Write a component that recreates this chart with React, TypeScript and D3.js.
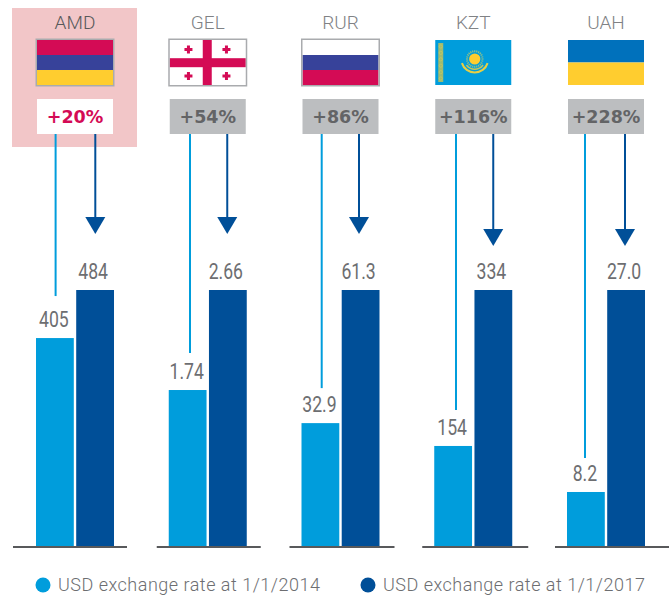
import * as d3 from "d3";

// values as printed on the chart
const currencies = ["AMD", "GEL", "RUR", "KZT", "UAH"];
const rate2014 = [405, 1.74, 32.9, 154, 8.2];
const rate2017 = [484, 2.66, 61.3, 334, 27.0];
const rate2014Labels = ["405", "1.74", "32.9", "154", "8.2"];
const rate2017Labels = ["484", "2.66", "61.3", "334", "27.0"];
const changes = ["+20%", "+54%", "+86%", "+116%", "+228%"];
const legendLabels = ["USD exchange rate at 1/1/2014", "USD exchange rate at 1/1/2017"];

// every panel has its own truncated y axis in the original
const axisFloors = [61.5, 0.296, 6.47, 37.4, 3.08];

// hand placed leader lines, they are not regular in the original
const lightLineOffsets = [-19.4, -17.75, -18.8, -17.25, -21];
const darkLineOffsets = [20.3, 19.5, 18.5, 20, 19];
const lightLineGaps = [42, 37, 35, 36, 34];
const arrowTips = [234, 234, 234, 246, 246];
const axisExtents = [[-23, 91], [-12, 92], [-12, 93], [-12, 94], [-12, 102]];

const LIGHT = "#009ddc";
const DARK = "#004f98";
const GREY = "#6d6e71";
const CRIMSON = "#d40b55";
const INDIGO = "#37429a";
const YELLOW = "#ffcd2f";
const UA_BLUE = "#0071bc";
const FLAG_BORDER = "#a9abae";

const BASELINE = 547;
const BAR_TOP = 290;
const FLAG_W = 76;
const FLAG_H = 45;

const x0 = d3.scaleBand<string>().domain(currencies).range([36, 645]).paddingInner(0.4124);
const x1 = d3.scaleBand<number>().domain([0, 1]).range([0, x0.bandwidth()]).paddingInner(0.06);

function Stripes({ colors, border }: { colors: string[]; border?: boolean }) {
  const y = d3.scaleBand<number>().domain(d3.range(colors.length)).range([0, FLAG_H]);
  return (
    <g>
      {colors.map((c, i) => (
        <rect key={i} x={0} y={y(i)} width={FLAG_W} height={y.bandwidth()} fill={c} />
      ))}
      {border && <rect x={-0.75} y={-0.75} width={FLAG_W + 1.5} height={FLAG_H + 1.5} fill="none" stroke={FLAG_BORDER} strokeWidth={1.5} />}
    </g>
  );
}

function GeorgiaFlag() {
  const small = [[18.7, 9.5], [56.7, 9.5], [18.7, 36], [56.7, 36]];
  return (
    <g>
      <rect width={FLAG_W} height={FLAG_H} fill="#fff" />
      <rect x={33} width={9} height={FLAG_H} fill={CRIMSON} />
      <rect y={18.2} width={FLAG_W} height={9} fill={CRIMSON} />
      {small.map(([cx, cy], i) => (
        <path key={i} transform={`translate(${cx},${cy})`} d="M-1.5-4h3v2.5H4v3H1.5V4h-3V1.5H-4v-3h2.5z" fill={CRIMSON} />
      ))}
      <rect x={-0.75} y={-0.75} width={FLAG_W + 1.5} height={FLAG_H + 1.5} fill="none" stroke={FLAG_BORDER} strokeWidth={1.5} />
    </g>
  );
}

function KazakhFlag() {
  const rays = d3.range(24).map((i) => (i * 360) / 24);
  const wing = d3.arc()({ innerRadius: 12.5, outerRadius: 14.5, startAngle: Math.PI * 0.6, endAngle: Math.PI * 1.4 }) || "";
  const wingInner = d3.arc()({ innerRadius: 9.5, outerRadius: 11, startAngle: Math.PI * 0.7, endAngle: Math.PI * 1.3 }) || "";
  return (
    <g>
      <rect width={FLAG_W} height={FLAG_H} fill={LIGHT} />
      <rect x={3} y={3} width={5} height={39} fill="#9dbb72" />
      {d3.range(6).map((i) => (
        <circle key={i} cx={5.5} cy={6.5 + i * 6.4} r={1.6} fill="none" stroke="#c8c860" strokeWidth={0.7} />
      ))}
      {rays.map((a) => (
        <rect key={a} x={-0.6} y={-8.8} width={1.2} height={2} fill="#8fc08a" transform={`translate(39.5,19) rotate(${a})`} />
      ))}
      <circle cx={39.5} cy={19} r={5.6} fill={YELLOW} />
      <path d={wing} transform="translate(39.5,19)" fill="#e6cf45" />
      <path d={wingInner} transform="translate(39.5,19)" fill="#e6cf45" opacity={0.85} />
    </g>
  );
}

function Flag({ code }: { code: string }) {
  if (code === "AMD") return <Stripes colors={[CRIMSON, INDIGO, YELLOW]} border />;
  if (code === "GEL") return <GeorgiaFlag />;
  if (code === "RUR") return <Stripes colors={["#fff", INDIGO, CRIMSON]} border />;
  if (code === "KZT") return <KazakhFlag />;
  return <Stripes colors={[UA_BLUE, YELLOW]} />;
}

// the original uses a condensed face, none is installed so Roboto gets squeezed
function BarLabel({ x, y, text }: { x: number; y: number; text: string }) {
  return (
    <text transform={`translate(${x},${y}) scale(0.8,1)`} textAnchor="middle" fontFamily="Roboto" fontSize={22} fill={GREY}>
      {text}
    </text>
  );
}

export default function App() {
  return (
    <svg width={670} height={599} style={{ position: "absolute", left: 0, top: 0 }}>
      <rect x={12} y={8} width={125} height={139} fill="#f2c6c8" />
      {currencies.map((code, i) => {
        const left = x0(code) as number;
        const cx = left + x0.bandwidth() / 2;
        const y = d3.scaleLinear().domain([axisFloors[i], rate2017[i]]).range([BASELINE, BAR_TOP]);
        const top2014 = y(rate2014[i]);
        const top2017 = y(rate2017[i]);
        const lightX = cx + lightLineOffsets[i];
        const darkX = cx + darkLineOffsets[i];
        const tip = arrowTips[i];
        const highlighted = i === 0;
        return (
          <g key={code}>
            <text x={cx} y={29} textAnchor="middle" fontFamily="Roboto" fontWeight={300} fontSize={19} fill={highlighted ? "#58595b" : "#808285"}>
              {code}
            </text>
            <g transform={`translate(${cx - FLAG_W / 2},40)`}>
              <Flag code={code} />
            </g>
            <rect x={cx - 38} y={99} width={76} height={35} fill={highlighted ? "#fff" : "#bcbec0"} />
            <text x={cx} y={123} textAnchor="middle" fontFamily="DejaVu Sans" fontWeight={700} fontSize={17.5} fill={highlighted ? CRIMSON : "#636466"}>
              {changes[i]}
            </text>
            <line x1={lightX} x2={lightX} y1={134} y2={top2014 - lightLineGaps[i]} stroke={LIGHT} strokeWidth={2} />
            <line x1={darkX} x2={darkX} y1={134} y2={tip - 10} stroke={DARK} strokeWidth={2} />
            <path d={d3.line()([[darkX - 10, tip - 17], [darkX + 10, tip - 17], [darkX, tip]]) + "Z"} fill={DARK} />
            <rect x={left + (x1(0) as number)} y={top2014} width={x1.bandwidth()} height={BASELINE - top2014} fill={LIGHT} />
            <rect x={left + (x1(1) as number)} y={top2017} width={x1.bandwidth()} height={BASELINE - top2017} fill={DARK} />
            <BarLabel x={left + (x1(0) as number) + x1.bandwidth() / 2 - 1} y={top2014 - 11} text={rate2014Labels[i]} />
            <BarLabel x={left + (x1(1) as number) + x1.bandwidth() / 2 - 2} y={top2017 - 11} text={rate2017Labels[i]} />
            <line x1={left + axisExtents[i][0]} x2={left + axisExtents[i][1]} y1={BASELINE} y2={BASELINE} stroke="#58595b" strokeWidth={2} />
          </g>
        );
      })}
      {legendLabels.map((label, i) => {
        const lx = i === 0 ? 43 : 368;
        return (
          <g key={label}>
            <circle cx={lx} cy={585} r={7.5} fill={i === 0 ? LIGHT : DARK} />
            <text x={lx + 15} y={591} fontFamily="Roboto" fontWeight={300} fontSize={18} letterSpacing={0.5} fill={GREY}>
              {label}
            </text>
          </g>
        );
      })}
    </svg>
  );
}
